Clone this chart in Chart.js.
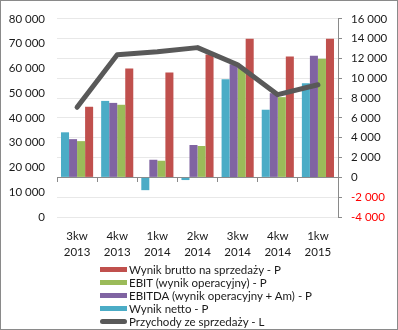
<!DOCTYPE html>
<html>
<head>
<meta charset="utf-8">
<script src="https://cdn.jsdelivr.net/npm/chart.js@4/dist/chart.umd.min.js"></script>
<style>
  html, body { margin: 0; padding: 0; background: #fff; }
  #wrap { position: relative; width: 398px; height: 330px; overflow: hidden; }
  #frame { position: absolute; left: 0; top: 0; width: 398px; height: 330px; box-sizing: border-box; border: 1px solid #8a8a8a; pointer-events: none; }
  #legend { position: absolute; left: 100px; top: 263.5px; font-family: Lato, sans-serif; font-size: 11.5px; color: #1a1a1a; }
  .row { height: 12.9px; display: flex; align-items: center; white-space: nowrap; }
  .sw { width: 27px; height: 5px; margin-right: 2px; flex: none; }
  .sw.line { border-radius: 3px; }
</style>
</head>
<body>
<div id="wrap">
  <canvas id="c" width="398" height="330"></canvas>
  <div id="legend"></div>
  <div id="frame"></div>
</div>
<script>
const categories = [['3kw','2013'],['4kw','2013'],['1kw','2014'],['2kw','2014'],['3kw','2014'],['4kw','2014'],['1kw','2015']];
const przychody = [44300, 65500, 66700, 68400, 61500, 49400, 53400];
const wynikBrutto = [7130, 11000, 10600, 12400, 14000, 12200, 14000];
const ebit = [3660, 7330, 1680, 3170, 11090, 8100, 11980];
const ebitda = [3860, 7520, 1780, 3270, 11420, 8500, 12280];
const wynikNetto = [4550, 7720, -1290, -270, 9900, 6830, 9500];
const leftTicks = { min: 0, max: 80000, step: 10000 };
const rightTicks = { min: -4000, max: 16000, step: 2000 };

const fmt = v => String(v).replace(/\B(?=(\d{3})+(?!\d))/g, ' ');
const FONT = { family: 'Lato, sans-serif', size: 11.5 };

const datasets = [
  { type: 'line', label: 'Przychody ze sprzedaży - L', data: przychody, yAxisID: 'y',
    borderColor: '#595959', backgroundColor: '#595959', borderWidth: 5, pointRadius: 0,
    borderCapStyle: 'round', borderJoinStyle: 'round', tension: 0 },
  { type: 'bar', label: 'Wynik netto - P', data: wynikNetto, yAxisID: 'yR', backgroundColor: '#4BACC6' },
  { type: 'bar', label: 'EBITDA (wynik operacyjny + Am) - P', data: ebitda, yAxisID: 'yR', backgroundColor: '#8064A2' },
  { type: 'bar', label: 'EBIT (wynik operacyjny) - P', data: ebit, yAxisID: 'yR', backgroundColor: '#9BBB59' },
  { type: 'bar', label: 'Wynik brutto na sprzedaży - P', data: wynikBrutto, yAxisID: 'yR', backgroundColor: '#C0504D' }
];
datasets.forEach(d => { if (d.type === 'bar') { d.categoryPercentage = 0.8; d.barPercentage = 1.0; } });

const chart = new Chart(document.getElementById('c'), {
  data: { labels: categories, datasets },
  options: {
    responsive: false,
    animation: false,
    layout: { padding: { top: 15, bottom: 68, left: 0, right: 0 } },
    plugins: { legend: { display: false }, tooltip: { enabled: false } },
    scales: {
      x: {
        type: 'category', position: 'bottom', offset: true,
        grid: { display: false, drawTicks: false }, border: { display: false },
        ticks: { font: { family: 'Lato, sans-serif', size: 11.5, lineHeight: 1.4 }, color: '#1a1a1a', padding: 11, maxRotation: 0, autoSkip: false },
        afterFit: s => { s.height = 45; }
      },
      x2: {
        type: 'category', position: { yR: 0 }, offset: true,
        ticks: { display: false },
        grid: { offset: true, drawOnChartArea: false, drawTicks: true, tickLength: 4, tickColor: '#8a8a8a', color: '#8a8a8a' },
        border: { display: true, color: '#8a8a8a', width: 1 }
      },
      y: {
        position: 'left', min: leftTicks.min, max: leftTicks.max,
        grid: { display: false, drawTicks: false }, border: { display: false },
        ticks: { stepSize: leftTicks.step, font: FONT, color: '#1a1a1a', padding: 12, callback: v => fmt(v) },
        afterFit: s => { s.width = 57; }
      },
      yR: {
        position: 'right', min: rightTicks.min, max: rightTicks.max,
        grid: {
          drawTicks: true, tickLength: 4, tickColor: '#8a8a8a',
          color: c => (c.tick && c.tick.value % rightTicks.step === 0) ? '#e8e8e8' : 'rgba(0,0,0,0)'
        },
        border: { display: true, color: '#8a8a8a', width: 1 },
        ticks: {
          stepSize: rightTicks.step / 2, font: FONT, padding: 9,
          color: c => (c.tick && c.tick.value < 0) ? '#ff0000' : '#1a1a1a',
          callback: v => (v % rightTicks.step === 0) ? fmt(v) : ''
        },
        afterFit: s => { s.width = 60; }
      }
    }
  }
});

// HTML legend built from the chart datasets
const legendOrder = ['Wynik brutto na sprzedaży - P', 'EBIT (wynik operacyjny) - P', 'EBITDA (wynik operacyjny + Am) - P', 'Wynik netto - P', 'Przychody ze sprzedaży - L'];
const legendEl = document.getElementById('legend');
legendOrder.forEach(lbl => {
  const ds = chart.data.datasets.find(d => d.label === lbl);
  const row = document.createElement('div'); row.className = 'row';
  const sw = document.createElement('span');
  sw.className = 'sw' + (ds.type === 'line' ? ' line' : '');
  sw.style.background = ds.type === 'line' ? ds.borderColor : ds.backgroundColor;
  const tx = document.createElement('span'); tx.textContent = ds.label;
  row.appendChild(sw); row.appendChild(tx); legendEl.appendChild(row);
});
</script>
</body>
</html>
